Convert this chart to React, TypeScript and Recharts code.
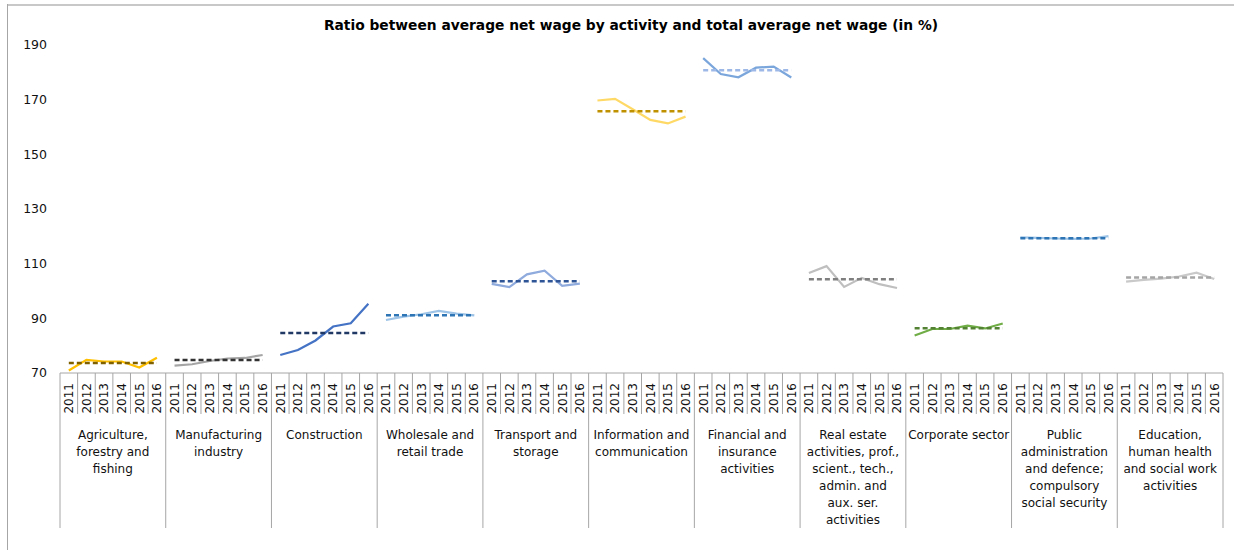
import React from "react";
import { LineChart, Line, XAxis, YAxis } from "recharts";

const years = ["2011", "2012", "2013", "2014", "2015", "2016"];

const categories: string[][] = [
  ["Agriculture,", "forestry and", "fishing"],
  ["Manufacturing", "industry"],
  ["Construction"],
  ["Wholesale and", "retail trade"],
  ["Transport and", "storage"],
  ["Information and", "communication"],
  ["Financial and", "insurance", "activities"],
  ["Real estate", "activities, prof.,", "scient., tech.,", "admin. and", "aux. ser.", "activities"],
  ["Corporate sector"],
  ["Public", "administration", "and defence;", "compulsory", "social security"],
  ["Education,", "human health", "and social work", "activities"],
];

const agriculture = [70.9, 74.8, 74.2, 74.2, 72.0, 75.6];
const manufacturing = [72.7, 73.2, 74.4, 75.3, 75.5, 76.6];
const construction = [76.6, 78.4, 81.9, 87.0, 88.2, 95.3];
const wholesale = [89.4, 90.6, 91.5, 92.7, 91.7, 91.1];
const transport = [102.6, 101.4, 106.1, 107.4, 101.9, 102.7];
const information = [169.7, 170.3, 166.5, 162.6, 161.3, 163.8];
const financial = [185.2, 179.4, 178.2, 181.7, 182.1, 178.1];
const realEstate = [106.6, 109.1, 101.5, 104.8, 102.5, 101.1];
const corporate = [83.7, 86.1, 86.1, 87.3, 86.3, 88.1];
const publicAdmin = [119.6, 119.4, 119.2, 119.1, 119.2, 120.1];
const education = [103.4, 104.1, 104.5, 105.3, 106.7, 104.4];

const averages = [73.7, 74.8, 84.6, 91.1, 103.6, 165.8, 180.8, 104.3, 86.4, 119.3, 104.9];

const yTicks = [70, 90, 110, 130, 150, 170, 190];

const seriesValues = [
  agriculture, manufacturing, construction, wholesale, transport, information,
  financial, realEstate, corporate, publicAdmin, education,
];

const solidColors = ["#FFC000", "#A5A5A5", "#4472C4", "#9DC3E6", "#8FAADC", "#FFD966", "#7AA6DC", "#BFBFBF", "#70AD47", "#9DC3E6", "#C9C9C9"];
const dashColors = ["#7F6000", "#333333", "#203864", "#2E75B6", "#2F5597", "#BF9000", "#9DB8E6", "#7F7F7F", "#548235", "#2E75B6", "#A5A5A5"];

const data: Record<string, any>[] = [];
seriesValues.forEach((vals, g) => {
  vals.forEach((v, i) => {
    const row: Record<string, any> = { key: `${g}-${i}`, year: years[i], g, i };
    row[`s${g}`] = v;
    row[`a${g}`] = averages[g];
    data.push(row);
  });
});

const W = 1234;
const H = 550;
const MARGIN = { top: 45, right: 11, bottom: 0, left: 0 };
const YW = 60;
const XH = 177;
const PLOT_W = W - MARGIN.left - MARGIN.right - YW;
const SLOT = PLOT_W / data.length;
const AXIS_COLOR = "#A6A6A6";
const FONT = "'DejaVu Sans', Verdana, sans-serif";

const XTick = (props: any) => {
  const { x, y, index } = props;
  const row = data[index];
  if (!row) return null;
  const left = x - SLOT / 2;
  const groupStart = row.i === 0;
  const isLast = index === data.length - 1;
  const labelLines = categories[row.g];
  return (
    <g>
      <line x1={left} y1={y} x2={left} y2={y + (groupStart ? 155 : 41)} stroke={AXIS_COLOR} strokeWidth={1} />
      {isLast && (
        <line x1={x + SLOT / 2} y1={y} x2={x + SLOT / 2} y2={y + 155} stroke={AXIS_COLOR} strokeWidth={1} />
      )}
      <text
        transform={`translate(${x},${y + 10}) rotate(-90)`}
        textAnchor="end"
        dy="0.36em"
        fontSize={12}
        fontFamily={FONT}
        fill="#111"
      >
        {row.year}
      </text>
      {groupStart &&
        labelLines.map((ln, k) => (
          <text
            key={k}
            x={left + 3 * SLOT}
            y={y + 66 + k * 17}
            textAnchor="middle"
            fontSize={12}
            fontFamily={FONT}
            fill="#111"
          >
            {ln}
          </text>
        ))}
    </g>
  );
};

export default function App() {
  return (
    <div style={{ position: "absolute", left: 0, top: 0, width: W, height: H, background: "#fff" }}>
      <div style={{ position: "absolute", left: 7, top: 4, width: W - 7, height: 0, borderTop: "2px solid #C8C8C8" }} />
      <div style={{ position: "absolute", left: 7, top: 4, width: 0, height: H - 4, borderLeft: "1px solid #A6A6A6" }} />
      <div
        style={{
          position: "absolute",
          left: 0,
          top: 17,
          width: 1262,
          textAlign: "center",
          fontFamily: FONT,
          fontWeight: "bold",
          fontSize: 13.8,
          color: "#000",
        }}
      >
        Ratio between average net wage by activity and total average net wage (in %)
      </div>
      <div style={{ position: "absolute", left: 0, top: 0 }}>
        <LineChart width={W} height={H} data={data} margin={MARGIN}>
          <XAxis
            dataKey="key"
            type="category"
            interval={0}
            height={XH}
            padding={{ left: SLOT / 2, right: SLOT / 2 }}
            tickLine={false}
            tickSize={0}
            tickMargin={0}
            axisLine={{ stroke: AXIS_COLOR, strokeWidth: 1 }}
            tick={<XTick />}
          />
          <YAxis
            domain={[70, 190]}
            ticks={yTicks}
            width={YW}
            axisLine={false}
            tickLine={false}
            tickSize={0}
            tickMargin={13}
            tick={{ fontSize: 12.5, fontFamily: FONT, fill: "#111" }}
          />
          {seriesValues.map((_, g) => (
            <Line
              key={`s${g}`}
              dataKey={`s${g}`}
              type="linear"
              stroke={solidColors[g]}
              strokeWidth={2.2}
              dot={false}
              activeDot={false}
              connectNulls={false}
              isAnimationActive={false}
            />
          ))}
          {seriesValues.map((_, g) => (
            <Line
              key={`a${g}`}
              dataKey={`a${g}`}
              type="linear"
              stroke={dashColors[g]}
              strokeWidth={2.5}
              strokeDasharray="5 3"
              dot={false}
              activeDot={false}
              connectNulls={false}
              isAnimationActive={false}
            />
          ))}
        </LineChart>
      </div>
    </div>
  );
}
